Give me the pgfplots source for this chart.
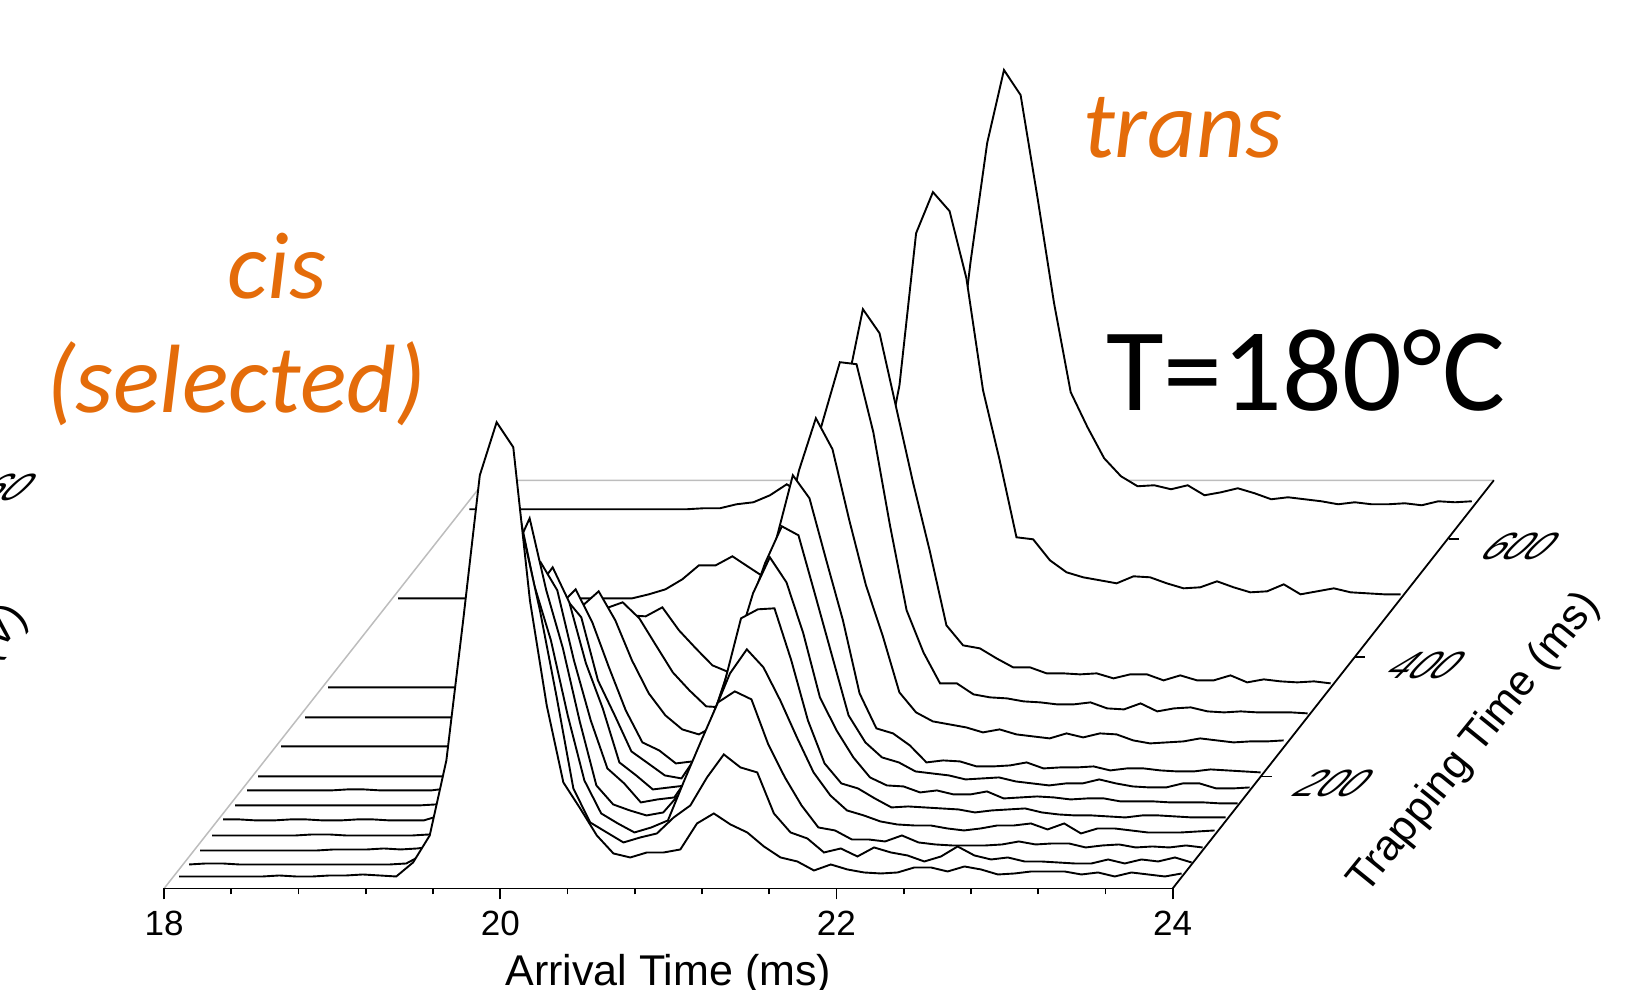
\documentclass[border=0pt]{standalone}
\usepackage{fontspec}
\setmainfont{Liberation Sans}
\newfontfamily\calibri{Carlito}
\usepackage{pgfplots}
\usepackage{pgfplotstable}
\pgfplotsset{compat=1.18}
\definecolor{off}{HTML}{E46C0A}
\definecolor{wall}{HTML}{BDBDBD}
% arrival time (ms) and signal height of the 13 traces
\pgfplotstableread{
t T1 T2 T3 T4 T5 T6 T7 T8 T9 T10 T11 T12 T13
18.000 0 0 0 0 1 0 0 0 0 0 0 0 0
18.099 0 1 0 0 1 0 0 0 0 0 0 0 0
18.199 0 1 0 0 0 0 0 0 0 0 0 0 0
18.298 0 0 0 0 0 0 0 0 0 0 0 0 0
18.398 0 0 0 0 1 0 0 0 0 0 0 0 0
18.497 0 0 0 0 1 0 0 0 0 0 0 0 0
18.596 1 0 0 1 0 0 1 0 0 0 0 0 0
18.696 0 0 0 1 0 0 1 0 0 0 0 0 0
18.795 0 0 1 0 1 0 0 0 0 0 0 0 0
18.895 1 0 1 0 1 0 0 0 0 0 3 0 0
18.994 1 0 1 0 0 0 0 0 0 4 5 0 0
19.093 2 0 2 0 0 0 0 0 3 8 10 0 0
19.193 1 0 1 0 0 1 2 3 8 12 15 0 0
19.292 0 1 2 1 5 5 8 10 18 18 20 0 0
19.392 14 10 4 10 20 15 25 25 35 30 30 0 1
19.491 41 30 20 30 60 50 60 60 60 50 40 4 1
19.590 116 100 90 80 120 100 110 100 90 70 50 9 5
19.690 256 230 210 170 190 170 160 145 120 90 60 19 7
19.789 401 350 320 280 235 215 190 170 140 109 72 33 14
19.889 454 395 345 317 258 238 193 187 155 115 71 33 25
19.988 429 329 265 245 230 203 173 154 126 99 80 42 14
20.087 276 254 210 187 160 142 110 109 86 72 57 31 9
20.187 171 167 135 114 100 97 75 66 53 45 39 20 14
20.286 94 76 70 50 52 43 39 34 31 27 22 23 19
20.386 68 42 37 31 37 30 27 26 17 11 15 28 29
20.485 41 32 27 25 18 16 15 13 12 10 47 33 39
20.584 23 22 18 20 21 18 12 15 21 27 87 38 49
20.684 19 27 23 23 23 20 37 36 56 67 137 53 59
20.783 24 31 30 42 47 58 80 86 96 117 187 78 79
20.883 24 47 71 77 87 105 130 136 146 177 217 128 109
20.982 27 59 110 122 137 157 180 176 206 237 262 213 247
21.081 53 87 148 162 202 212 227 236 276 297 296 365 366
21.181 63 110 159 186 211 248 264 301 328 355 378 406 439
21.280 52 97 151 168 212 223 255 278 297 353 354 387 414
21.380 44 92 106 135 160 172 195 216 226 285 279 320 312
21.479 30 51 73 98 100 108 135 156 161 192 205 208 206
21.578 19 32 45 63 57 75 75 83 111 107 137 138 117
21.678 15 26 23 40 37 48 48 48 54 65 62 61 82
21.777 6 12 20 25 32 28 33 43 34 34 42 59 51
21.877 12 16 11 20 22 20 28 31 25 34 39 38 33
21.976 7 8 11 14 13 19 19 14 22 23 29 26 23
22.075 4 17 9 11 14 13 17 16 19 20 20 21 24
22.175 3 12 15 10 13 15 15 15 14 19 20 18 20
22.274 4 9 8 10 12 11 11 10 17 16 14 15 24
22.374 9 3 6 7 11 11 12 10 12 15 14 22 14
22.473 9 8 5 5 8 14 13 11 10 13 13 21 17
22.572 5 18 5 7 10 7 9 14 8 13 14 15 21
22.672 10 9 5 10 11 8 7 8 13 15 9 10 16
22.771 7 5 6 10 12 9 5 9 9 9 13 11 10
22.871 2 7 9 12 8 8 7 9 13 8 13 17 12
22.970 3 3 6 6 6 6 7 10 12 14 7 11 10
23.069 5 3 7 12 5 7 11 6 6 6 12 6 8
23.169 5 2 7 2 5 7 7 8 3 9 7 7 5
23.268 5 1 3 7 4 4 4 8 4 10 7 14 7
23.368 2 1 5 7 3 4 3 6 5 6 12 4 5
23.467 4 5 6 5 5 4 3 5 8 5 5 7 5
23.566 0 1 3 3 5 3 7 5 6 6 8 10 6
23.666 4 5 4 3 4 3 7 7 4 5 6 6 4
23.765 2 3 3 3 3 3 2 6 5 5 5 5 8
23.865 0 7 5 4 3 2 2 5 5 5 6 4 7
23.964 3 2 3 5 3 2 3 4 6 4 4 4 8
}\traces
% #1 column, #2 shear in ms, #3 lift of the trace's baseline
\newcommand\trace[3]{%
  \addplot[draw=none,fill=white,forget plot] table[x expr=\thisrow{t}+#2,y expr=\thisrow{#1}+#3]{\traces} --cycle;
  \addplot[black,line width=1.9pt,line join=miter,miter limit=4,forget plot] table[x expr=\thisrow{t}+#2,y expr=\thisrow{#1}+#3]{\traces};
}
\begin{document}
\begin{tikzpicture}[x=1pt,y=1pt]
\path[use as bounding box,clip] (0,0.35) rectangle (1648.1,989);
\begin{scope}[overlay]
\begin{axis}[
  at={(0pt,0pt)},anchor=south west,
  width=1649pt,height=989pt,scale only axis,
  xmin=17.02381,xmax=26.83929,ymin=-101,ymax=888,
  hide axis,clip=false]
\addplot[wall,line width=1.5pt] coordinates {(18,0)(19.911,408)(25.911,408)};
\trace{T13}{1.8155}{379}
\trace{T12}{1.3929}{290}
\trace{T11}{0.9762}{201}
\trace{T10}{0.8393}{171}
\trace{T9}{0.6964}{142}
\trace{T8}{0.5595}{112}
\trace{T7}{0.4940}{98}
\trace{T6}{0.4226}{83}
\trace{T5}{0.3512}{68}
\trace{T4}{0.2857}{53}
\trace{T3}{0.2143}{38}
\trace{T2}{0.1488}{24}
\trace{T1}{0.0893}{12}
\addplot[black,line width=1.8pt] coordinates {(24,0)(25.911,408)};
\addplot[black,line width=1.8pt] coordinates {(24.524,112)(24.589,112)};
\addplot[black,line width=1.8pt] coordinates {(25.083,231)(25.143,231)};
\addplot[black,line width=1.8pt] coordinates {(25.643,349)(25.703,349)};
\end{axis}
\begin{axis}[
  at={(164pt,101pt)},anchor=south west,
  width=1008pt,height=100pt,scale only axis,
  xmin=18,xmax=24,ymin=0,ymax=1,
  axis x line=bottom,axis y line=none,
  axis line style={-,line width=1.8pt},
  xtick={18,20,22,24},minor x tick num=4,
  tick align=outside,
  major tick length=11pt,minor tick length=6pt,
  every tick/.style={black,line width=1.8pt},
  /pgf/number format/assume math mode=true,
  ticklabel style={font=\fontsize{35}{40}\selectfont},
  xticklabel style={yshift=-8pt},
  xlabel={Arrival Time (ms)},
  xlabel style={font=\fontsize{43}{50}\selectfont,at={(axis description cs:0.5,0)},anchor=center,yshift=-86pt},
]
\end{axis}
\node[rotate=51,font=\fontsize{43}{48}\selectfont] at (1474,246) {Trapping Time (ms)};
\node[transform shape,xslant=1,font=\fontsize{38}{44}\selectfont] at (1334,206) {200};
\node[transform shape,xslant=1,font=\fontsize{38}{44}\selectfont] at (1426,324) {400};
\node[transform shape,xslant=1,font=\fontsize{38}{44}\selectfont] at (1520,443) {600};
\node[transform shape,xslant=1,font=\fontsize{38}{44}\selectfont,anchor=east,inner sep=0pt] at (30,502) {60};
\node[rotate=50,font=\fontsize{43}{50}\selectfont,anchor=east,inner sep=0pt] at (20,378) {(V)};
\node[font=\calibri\itshape\fontsize{95}{100}\selectfont,text=off] at (277,723) {cis};
\node[font=\calibri\itshape\fontsize{97}{100}\selectfont,text=off] at (236,605) {(selected)};
\node[font=\calibri\itshape\fontsize{95}{100}\selectfont,text=off] at (1182,861) {trans};
\node[font=\calibri\fontsize{118}{125}\selectfont] at (1305,619) {T=180°C};
\end{scope}
\end{tikzpicture}
\end{document}
